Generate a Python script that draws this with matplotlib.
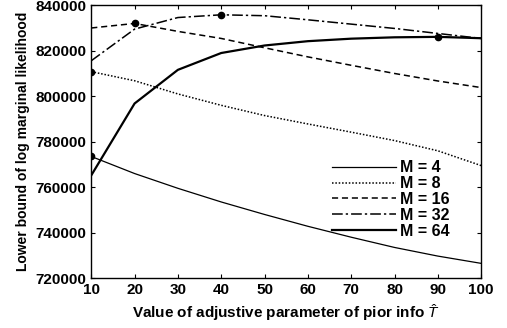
import numpy as np
import matplotlib
matplotlib.use("Agg")
from matplotlib import pyplot as plt

plt.rcParams['font.family'] = ['Liberation Sans', 'DejaVu Sans']
plt.rcParams['mathtext.fontset'] = 'custom'
plt.rcParams['mathtext.it'] = 'Liberation Sans:italic'
plt.rcParams['mathtext.rm'] = 'Liberation Sans'

# adjustive parameter T-hat
t_vals = [10, 20, 30, 40, 50, 60, 70, 80, 90, 100]

# lower bound of log marginal likelihood for each M
m4 = [773500, 766000, 759500, 753500, 748000, 742800, 738000, 733500, 729700, 726500]
m8 = [810800, 806800, 801000, 796000, 791500, 787800, 784200, 780500, 776000, 769500]
m16 = [830000, 832000, 828500, 825400, 821300, 817300, 813600, 810000, 806700, 803800]
m32 = [815600, 829500, 834600, 835800, 835400, 833600, 831700, 829800, 827600, 825400]
m64 = [765200, 796800, 811600, 819000, 822300, 824200, 825300, 825900, 826100, 825500]

labels = ["M = 4", "M = 8", "M = 16", "M = 32", "M = 64"]
series = [m4, m8, m16, m32, m64]
styles = [
    dict(ls='-', lw=0.9),
    dict(ls=(0, (1, 1.2)), lw=1.1),
    dict(ls=(0, (4, 2.5)), lw=1.1),
    dict(ls=(0, (7, 2, 1.5, 2)), lw=1.1),
    dict(ls='-', lw=1.6),
]

fig, ax = plt.subplots(figsize=(5.07, 3.28), dpi=100)
fig.subplots_adjust(left=0.18, right=0.949, top=0.984, bottom=0.152)

for vals, lab, st in zip(series, labels, styles):
    ax.plot(t_vals, vals, color='black', label=lab, **st)
    # mark the maximum of each curve
    k = int(np.argmax(vals))
    ax.plot(t_vals[k], vals[k], 'o', color='black', ms=4.5, zorder=5)

ax.set_xlim(10, 100)
ax.set_ylim(720000, 840000)
ax.set_xticks(t_vals)
ax.set_yticks(np.arange(720000, 840001, 20000))
ax.tick_params(direction='in', top=True, right=True, labelsize=11, length=3, width=0.8)
for lab in ax.get_xticklabels() + ax.get_yticklabels():
    lab.set_fontweight('bold')
for sp in ax.spines.values():
    sp.set_linewidth(1.0)

ax.set_xlabel(r"Value of adjustive parameter of pior info $\hat{T}$", fontsize=11, fontweight='bold')
ax.set_ylabel("Lower bound of log marginal likelihood", fontsize=10, fontweight='bold')

leg = ax.legend(loc='lower right', bbox_to_anchor=(0.945, 0.11), frameon=False,
                fontsize=11.5, handlelength=4.0, handletextpad=0.3,
                labelspacing=0.05, borderaxespad=0.2)
for txt in leg.get_texts():
    txt.set_fontweight('bold')

fig.savefig("out.png", dpi=100)
